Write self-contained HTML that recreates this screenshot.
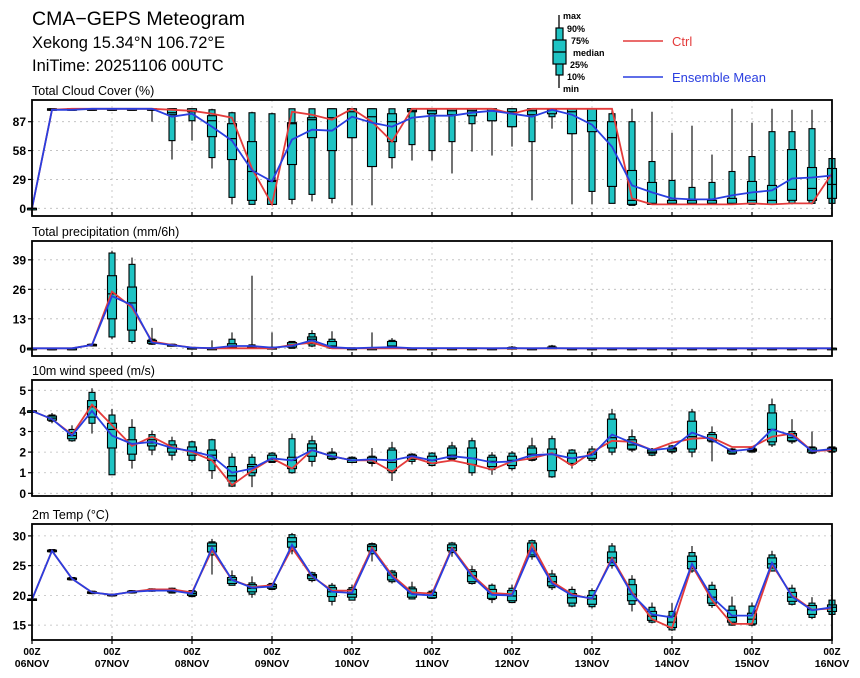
<!DOCTYPE html>
<html><head><meta charset="utf-8">
<style>
html,body{margin:0;padding:0;background:#fff;}
svg{display:block;font-family:"Liberation Sans",sans-serif;}
</style></head>
<body>
<svg id="chart" width="860" height="678" viewBox="0 0 860 678" xmlns="http://www.w3.org/2000/svg">
<g>
<text x="32" y="25" font-size="19.5" fill="#000">CMA−GEPS Meteogram</text>
<text x="32" y="48" font-size="16.5" fill="#000">Xekong 15.34°N 106.72°E</text>
<text x="32" y="71" font-size="16.5" fill="#000">IniTime: 20251106 00UTC</text>
</g>
<g font-size="9" font-weight="bold" fill="#000">
<line x1="559" y1="15" x2="559" y2="88" stroke="#000" stroke-width="1.3"/>
<rect x="556" y="28" width="7" height="47" fill="#1fc3c3" stroke="#000" stroke-width="1.2"/>
<rect x="553" y="40" width="13" height="24" fill="#1fc3c3" stroke="#000" stroke-width="1.2"/>
<line x1="553" y1="52" x2="566" y2="52" stroke="#000" stroke-width="1.3"/>
<text x="563" y="19">max</text>
<text x="567" y="32">90%</text>
<text x="571" y="44">75%</text>
<text x="573" y="56">median</text>
<text x="570" y="68">25%</text>
<text x="567" y="80">10%</text>
<text x="563" y="92">min</text>
</g>
<g>
<line x1="623" y1="41" x2="663" y2="41" stroke="#e43b3b" stroke-width="1.6"/>
<text x="672" y="46" font-size="13" fill="#e43b3b">Ctrl</text>
</g>
<g>
<line x1="623" y1="77" x2="663" y2="77" stroke="#2a3ee0" stroke-width="1.6"/>
<text x="672" y="82" font-size="13" fill="#2a3ee0">Ensemble Mean</text>
</g>
</svg>
<script>
// ---------- data ----------
const dayLabels = ["06NOV","07NOV","08NOV","09NOV","10NOV","11NOV","12NOV","13NOV","14NOV","15NOV","16NOV"];
// Total cloud cover (%)
const ccMax = [0,100,100,100,100,100,100,100,100,100,97,97,96,100,100,100,100,100,100,100,100,100,100,100,100,100,100,100,100,100,100,97,76,83,54,100,86,100,99,99,62];
const ccP90 = [0,100,100,100,100,100,100,100,100,99,96,96,95,100,100,100,100,100,100,100,100,100,100,100,100,100,100,100,100,95,87,47,28,21,26,37,52,77,77,80,50];
const ccP75 = [0,100,100,100,100,100,100,100,100,93,85,67,28,86,91,100,100,100,95,100,100,100,100,100,100,100,100,100,100,87,38,26,8,8,8,10,27,23,59,41,40];
const ccMed = [0,99,99,99,100,100,100,96,98,88,70,37,27,85,89,91,97,92,87,98,98,98,98,98,97,98,99,97,88,71,8,5,5,5,5,5,8,8,19,20,24];
const ccP25 = [0,99,99,99,100,100,100,94,97,72,49,8,4,44,71,58,71,42,67,97,95,94,93,88,82,94,95,75,77,22,4,4,4,4,4,4,5,4,8,8,10];
const ccP10 = [0,99,99,99,100,100,100,68,88,51,11,4,4,9,14,10,71,42,51,64,58,67,85,88,82,67,92,75,17,5,3,4,4,4,4,4,4,4,5,5,5];
const ccMin = [0,99,99,99,100,100,87,49,68,40,4,4,4,4,7,5,3,3,40,48,48,35,57,53,62,8,80,4,4,5,3,4,4,4,4,4,4,4,4,4,4];
const ccCtrl = [0,99,100,100,100,100,100,99,98,95,91,40,4,97,94,89,100,87,67,100,100,100,100,100,95,100,100,100,100,100,10,4,4,4,4,4,5,4,5,5,35];
const ccMean = [0,99,99,100,100,100,100,92,95,82,68,38,27,69,79,78,92,86,82,91,93,93,96,98,95,92,99,94,84,62,23,16,10,9,9,13,16,18,30,31,33];
// Total precipitation (mm/6h)
const prMax = [0,0,0,2,43,40,9,2,0.5,3.5,7,32,7,3,8,7.5,0.3,7,4.5,0.2,0.2,0.2,0.2,0.2,1,0.2,1.5,0.2,0.2,0.2,0.2,0.2,0.2,0.2,0.2,0.2,0.2,0.2,0.2,0.2,0.2];
const prP90 = [0,0,0,1.8,42,37,4,1.8,0.4,0.2,4,1.5,0.5,3,6.5,4,0.2,0.3,3.5,0.1,0.1,0.1,0.1,0.1,0.5,0.1,1,0.1,0.1,0.1,0.1,0.1,0.1,0.1,0.1,0.1,0.1,0.1,0.1,0.1,0.1];
const prP75 = [0,0,0,1.7,32,27,3.5,1.6,0.3,0,2,1,0.3,2.5,5,3,0,0,3,0,0,0,0,0,0.3,0,0.5,0,0,0,0,0,0,0,0,0,0,0,0,0,0];
const prMed = [0,0,0,1.5,24,20,3,1.4,0.2,0,1,0.5,0,1.5,4,1,0,0,1,0,0,0,0,0,0,0,0,0,0,0,0,0,0,0,0,0,0,0,0,0,0];
const prP25 = [0,0,0,1.3,13,8,2.2,1.2,0.1,0,0.5,0,0,0.5,2,0.3,0,0,0.3,0,0,0,0,0,0,0,0,0,0,0,0,0,0,0,0,0,0,0,0,0,0];
const prP10 = [0,0,0,1.1,5,3,1.8,1,0,0,0,0,0,0,1,0,0,0,0,0,0,0,0,0,0,0,0,0,0,0,0,0,0,0,0,0,0,0,0,0,0];
const prMin = [0,0,0,1,4,2,1.5,0.8,0,0,0,0,0,0,0.5,0,0,0,0,0,0,0,0,0,0,0,0,0,0,0,0,0,0,0,0,0,0,0,0,0,0];
const prCtrl = [0,0,0,1.5,25,18,3,1.5,0.3,0,0,0,0,1.5,2.5,0,0,0,0,0,0,0,0,0,0,0,0,0,0,0,0,0,0,0,0,0,0,0,0,0,0];
const prMean = [0,0,0,1.5,23,19,2.5,1.4,0.3,0.1,1,1,0.3,1,3.5,0.5,0,0.3,0.5,0.1,0.1,0.1,0.1,0,0.1,0,0.1,0,0,0,0,0,0,0,0,0,0,0,0,0,0];
// 10m wind speed (m/s)
const wsMax = [4,3.9,3.3,5.1,4.1,3.6,3.05,2.75,2.55,2.65,1.95,1.9,2.0,2.9,2.8,2.2,1.8,2.2,2.5,1.95,2.0,2.5,2.7,2.0,2.05,2.7,2.8,2.15,2.3,4.1,3.1,2.2,2.35,4.1,3.25,2.2,2.3,4.6,3.6,3.0,2.3];
const wsP90 = [4,3.8,3.1,4.9,3.8,3.2,2.85,2.55,2.5,2.6,1.75,1.75,1.95,2.65,2.55,2.0,1.75,1.8,2.2,1.9,1.95,2.3,2.55,1.85,1.95,2.3,2.65,2.1,2.15,3.85,2.75,2.15,2.3,3.95,2.95,2.15,2.2,4.3,3.0,2.25,2.25];
const wsP75 = [4,3.75,2.95,4.5,3.4,2.6,2.6,2.35,2.25,2.1,1.3,1.4,1.85,1.75,2.4,1.95,1.7,1.75,2.1,1.85,1.8,2.2,2.2,1.75,1.8,2.2,2.15,1.95,2.0,3.6,2.6,2.1,2.2,3.5,2.85,2.1,2.15,3.9,2.9,2.2,2.2];
const wsMed = [4,3.65,2.8,4.2,3.1,2.4,2.45,2.2,2.05,1.85,0.85,1.3,1.65,1.6,2.2,1.8,1.6,1.65,1.5,1.75,1.6,1.85,1.7,1.55,1.6,1.9,1.9,1.7,1.9,2.7,2.35,2.0,2.15,2.75,2.65,2.05,2.1,3.1,2.7,2.1,2.15];
const wsP25 = [4,3.55,2.65,3.7,2.2,1.9,2.3,2.0,1.85,1.6,0.6,1.0,1.55,1.2,1.8,1.7,1.5,1.5,1.1,1.65,1.45,1.7,1.4,1.3,1.35,1.65,1.1,1.45,1.7,2.2,2.15,1.95,2.05,2.15,2.55,1.95,2.05,2.5,2.55,2.0,2.05];
const wsP10 = [4,3.5,2.55,3.4,0.9,1.6,2.1,1.85,1.6,1.1,0.35,0.85,1.5,1.0,1.55,1.65,1.5,1.45,1.0,1.55,1.35,1.65,1.0,1.15,1.2,1.6,0.8,1.4,1.6,2.0,2.1,1.85,2.0,2.0,2.5,1.9,2.0,2.35,2.5,1.95,2.0];
const wsMin = [4,3.4,2.5,2.9,0.9,1.2,1.85,1.6,1.5,0.7,0.3,0.3,1.5,0.95,1.3,1.6,1.45,1.3,0.6,1.4,1.3,1.55,0.85,0.9,1.1,1.55,0.75,1.2,1.5,1.85,2.0,1.8,1.9,1.75,1.55,1.9,2.0,2.25,2.4,1.9,1.95];
const wsCtrl = [4,3.6,2.85,4.3,3.3,2.3,2.75,2.25,2.0,1.6,0.4,1.1,1.7,1.2,2.1,1.8,1.6,1.6,1.05,1.75,1.45,1.6,1.4,1.15,1.55,1.7,1.95,1.35,2.0,2.55,2.5,2.1,2.45,2.65,2.7,2.25,2.25,2.75,2.9,2.05,2.1];
const wsMean = [4,3.6,2.8,4.0,2.8,2.4,2.5,2.2,2.05,1.8,1.0,1.2,1.7,1.6,2.1,1.8,1.6,1.65,1.6,1.8,1.6,1.8,1.7,1.5,1.55,1.85,1.9,1.7,1.85,2.85,2.45,2.1,2.2,2.95,2.6,2.05,2.15,3.1,2.8,2.05,2.15];
// 2m temperature (°C)
const tMax = [19.4,27.8,23.1,20.8,20.3,20.9,21.2,21.3,20.9,29.5,24.2,23.2,22.1,30.5,24.0,22.1,21.8,28.9,24.3,22.3,21.0,29.0,25.0,22.0,21.8,29.4,24.3,21.5,21.2,28.8,23.4,18.8,18.7,28.3,22.3,19.8,18.8,27.5,21.8,19.7,19.5];
const tP90 = [19.4,27.7,23.0,20.7,20.2,20.8,21.1,21.2,20.8,29.0,23.3,22.1,22.0,30.2,23.8,21.7,21.3,28.7,24.1,21.4,20.7,28.8,24.3,21.7,21.2,29.2,23.6,21.0,20.8,28.3,22.7,18.0,17.3,27.2,21.7,18.2,18.2,26.8,21.2,18.7,19.2];
const tP75 = [19.4,27.6,22.9,20.6,20.2,20.7,21.0,21.0,20.6,28.8,23.0,21.8,21.8,29.7,23.5,21.3,21.0,28.5,23.8,21.1,20.5,28.5,24.0,21.0,20.8,28.8,23.2,20.3,20.0,27.3,21.8,17.3,16.5,26.6,21.0,17.5,17.0,26.3,20.5,18.3,18.4];
const tMed = [19.3,27.5,22.8,20.5,20.1,20.6,20.9,20.8,20.3,28.3,22.6,21.2,21.5,29.0,23.3,20.6,20.2,28.2,23.4,20.4,20.0,28.0,23.3,20.3,19.9,27.5,22.3,19.6,19.4,26.3,20.2,16.5,15.5,25.7,19.7,16.3,16.0,25.3,19.7,17.6,18.0];
const tP25 = [19.2,27.4,22.7,20.4,20.0,20.5,20.8,20.6,20.0,27.3,22.0,20.6,21.2,28.1,22.8,19.8,19.7,27.5,22.6,19.7,19.6,27.5,22.3,19.5,19.1,26.8,21.6,18.7,18.5,25.5,19.1,15.8,14.6,24.5,18.7,15.5,15.2,24.6,19.0,16.8,17.3];
const tP10 = [19.2,27.3,22.6,20.3,19.9,20.4,20.7,20.4,19.8,26.8,21.7,20.2,21.0,27.5,22.5,19.0,19.2,27.0,22.3,19.4,19.5,27.2,22.0,19.3,18.8,26.5,21.3,18.2,18.1,25.0,18.5,15.5,14.2,24.1,18.3,15.0,15.0,24.1,18.5,16.3,16.8];
const tMin = [19.2,27.2,22.5,20.2,19.9,20.3,20.6,20.3,19.7,23.5,21.7,19.6,20.9,26.9,22.2,18.3,19.2,25.7,22.0,19.3,19.4,26.5,21.8,18.7,18.8,26.0,20.9,18.0,17.8,24.5,17.3,15.3,14.0,23.8,17.9,14.9,14.8,24.0,18.3,16.0,16.5];
const tCtrl = [19.3,27.5,22.8,20.5,20.1,20.6,21.0,21.0,20.5,27.6,22.6,21.4,21.7,28.0,23.2,20.8,20.8,28.0,23.4,20.5,20.3,28.0,23.5,20.4,20.2,28.6,22.3,20.2,19.4,26.3,20.5,16.0,14.5,25.0,19.2,15.2,15.2,25.2,20.0,17.6,17.8];
const tMean = [19.3,27.5,22.8,20.5,20.1,20.6,20.8,20.8,20.3,28.0,22.6,21.3,21.5,28.5,23.3,20.6,20.4,27.7,23.1,20.2,20.0,27.8,23.2,20.1,20.0,27.8,22.0,20.0,19.5,26.0,20.2,16.8,16.3,25.3,19.7,16.6,16.6,25.5,19.8,17.5,18.0];

// ---------- rendering ----------
const NS = "http://www.w3.org/2000/svg";
const svg = document.getElementById("chart");
const X0 = 32, X1 = 832, NSTEP = 40;
function xAt(i){ return X0 + (X1 - X0) * i / NSTEP; }
function mk(tag, attrs, parent){
  const e = document.createElementNS(NS, tag);
  for (const k in attrs) e.setAttribute(k, attrs[k]);
  (parent || svg).appendChild(e);
  return e;
}
const TEAL = "#1fc3c3", RED = "#e43b3b", BLUE = "#2a3ee0";

const panels = [
  {name:"cloud-cover", title:"Total Cloud Cover (%)", top:100, bot:216, vmin:-7.7, vmax:108.8, ticks:[0,29,58,87],
   s:[ccMin,ccP10,ccP25,ccMed,ccP75,ccP90,ccMax], ctrl:ccCtrl, mean:ccMean},
  {name:"precipitation", title:"Total precipitation (mm/6h)", top:241, bot:356, vmin:-3.4, vmax:47.3, ticks:[0,13,26,39],
   s:[prMin,prP10,prP25,prMed,prP75,prP90,prMax], ctrl:prCtrl, mean:prMean},
  {name:"wind-speed", title:"10m wind speed (m/s)", top:380, bot:496, vmin:-0.13, vmax:5.5, ticks:[0,1,2,3,4,5],
   s:[wsMin,wsP10,wsP25,wsMed,wsP75,wsP90,wsMax], ctrl:wsCtrl, mean:wsMean},
  {name:"temperature", title:"2m Temp (°C)", top:524, bot:640, vmin:12.5, vmax:32.0, ticks:[15,20,25,30],
   s:[tMin,tP10,tP25,tMed,tP75,tP90,tMax], ctrl:tCtrl, mean:tMean}
];

panels.forEach(function(p, pi){
  const g = mk("g", {});
  
  
  const y = function(v){ return p.bot - (v - p.vmin) / (p.vmax - p.vmin) * (p.bot - p.top); };
  const t = mk("text", {x:32, y:p.top-5, "font-size":12.5, fill:"#000"}, g);
  t.textContent = p.title;
  
  
  p.ticks.forEach(function(v){
    const yy = y(v);
    const gl = mk("line", {x1:X0, x2:X1, y1:yy, y2:yy, stroke:"#bbb", "stroke-width":0.8, "stroke-dasharray":"2,4"}, g);
    
    
    mk("line", {x1:X0-4, x2:X0, y1:yy, y2:yy, stroke:"#000", "stroke-width":1.2}, g);
    const tl = mk("text", {x:26, y:yy+4.5, "font-size":12, "font-weight":"bold", "text-anchor":"end", fill:"#000"}, g);
    tl.textContent = String(v);
    
    
  });
  for (let d = 1; d < 10; d++){
    const xx = xAt(d*4);
    const vl = mk("line", {x1:xx, x2:xx, y1:p.top, y2:p.bot, stroke:"#bbb", "stroke-width":0.8, "stroke-dasharray":"2,4"}, g);
    
    
  }
  for (let i = 0; i <= NSTEP; i++){
    const xx = xAt(i);
    const bg = mk("g", {}, g);
    
    
    const mn=p.s[0][i], p10=p.s[1][i], p25=p.s[2][i], md=p.s[3][i], p75=p.s[4][i], p90=p.s[5][i], mx=p.s[6][i];
    mk("line", {x1:xx, x2:xx, y1:y(mx), y2:y(mn), stroke:"#000", "stroke-width":1.1}, bg);
    const h1 = Math.max(y(p10)-y(p90), 1.5);
    mk("rect", {x:xx-3, y:y(p90), width:6, height:h1, fill:TEAL, stroke:"#000", "stroke-width":1.1}, bg);
    const h2 = Math.max(y(p25)-y(p75), 1.5);
    mk("rect", {x:xx-4.5, y:y(p75), width:9, height:h2, fill:TEAL, stroke:"#000", "stroke-width":1.1}, bg);
    mk("line", {x1:xx-4.5, x2:xx+4.5, y1:y(md), y2:y(md), stroke:"#000", "stroke-width":1.2}, bg);
  }
  function path(arr){ return arr.map(function(v,i){ return (i?"L":"M") + xAt(i).toFixed(1) + "," + y(v).toFixed(1); }).join(""); }
  const cl = mk("path", {d:path(p.ctrl), fill:"none", stroke:RED, "stroke-width":1.8}, g);
  
  
  const ml = mk("path", {d:path(p.mean), fill:"none", stroke:BLUE, "stroke-width":1.8}, g);
  
  
  const fr = mk("rect", {x:X0, y:p.top, width:X1-X0, height:p.bot-p.top, fill:"none", stroke:"#000", "stroke-width":1.8}, g);
  
  
  for (let d = 0; d <= 10; d++){
    const xx = xAt(d*4);
    mk("line", {x1:xx, x2:xx, y1:p.bot-4, y2:p.bot+(pi===3?4:0), stroke:"#000", "stroke-width":1.2}, g);
  }
});

dayLabels.forEach(function(lab, d){
  const xx = xAt(d*4);
  const a = mk("text", {x:xx, y:655, "font-size":10, "font-weight":"bold", "text-anchor":"middle", fill:"#000"});
  a.textContent = "00Z";
  
  
  const b = mk("text", {x:xx, y:667, "font-size":10.5, "font-weight":"bold", "text-anchor":"middle", fill:"#000"});
  b.textContent = lab;
  
  
});
</script>
</body></html>
